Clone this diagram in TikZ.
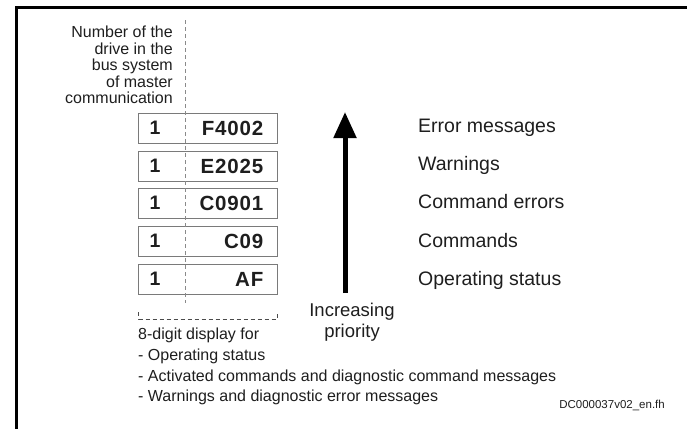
\documentclass[tikz,border=0pt]{standalone}
\usepackage{fontspec}
\setmainfont{Liberation Sans}
\newfontfamily\codefont[LetterSpace=4]{Liberation Sans Bold}
\usetikzlibrary{arrows.meta}
\definecolor{ink}{HTML}{1E1E1E}
\definecolor{boxline}{HTML}{7A7A7A}
\definecolor{dashline}{HTML}{8A8A8A}
\tikzset{
  frame/.style={line width=3pt, black},
  msgbox/.style={draw=boxline, line width=1pt, minimum width=139pt, minimum height=30pt, inner sep=0pt},
  drivenum/.style={font=\bfseries\fontsize{19.5}{19.5}\selectfont, text=ink, inner sep=0pt},
  code/.style={font=\codefont\fontsize{20.5}{20.5}\selectfont, text=ink, inner sep=0pt, anchor=east},
  label/.style={font=\fontsize{19.5}{19.5}\selectfont, text=ink, inner sep=0pt, anchor=west, text height=14pt, text depth=4pt},
  note/.style={font=\fontsize{16}{16}\selectfont, text=ink, inner sep=0pt, anchor=west, text height=11.5pt, text depth=3.5pt},
  divider/.style={dashline, line width=1pt, dash pattern=on 4pt off 3pt},
  bracket/.style={ink!80, line width=1pt, dash pattern=on 4pt off 3pt},
  priority/.style={line width=5pt, -{Triangle[width=22pt,length=26pt]}}
}
\begin{document}
\begin{tikzpicture}[x=1pt,y=-1pt]
\useasboundingbox (0,0) rectangle (687,429);

% outer frame (top and left edges only)
\draw[frame] (687,7.5) -- (16.5,7.5) -- (16.5,429);

% heading over the drive number column
\node[font=\fontsize{16}{16.5}\selectfont, text=ink, align=right, inner sep=0pt, anchor=east]
  (head) at (173,65) {Number of the\\drive in the\\bus system\\of master\\communication};

% the five display boxes
\foreach \i/\y/\c in {1/128/F4002, 2/166/E2025, 3/203/C0901, 4/241/C09, 5/279/AF} {
  \node[msgbox] (b\i) at (207.5,\y) {};
  \node[drivenum] (n\i) at (155,\y) {1};
  \node[code] (c\i) at (263.5,\y) {\c};
}

% dashed divider between drive number and display code
\coordinate (divtop) at (185,20);
\coordinate (divbot) at (185,303);
\draw[divider] (divtop) -- (divbot);

% bracket under the boxes, ticks pointing up
\coordinate (brl) at (138.5,319);
\coordinate (brr) at (277,319);
\draw[bracket] ([yshift=7pt]brl) -- (brl) -- (brr) -- ([yshift=7pt]brr);

% priority arrow
\coordinate (arrbot) at (345,293);
\coordinate (arrtop) at (345,112);
\draw[priority] (arrbot) -- (arrtop);
\node[font=\fontsize{18.5}{21}\selectfont, text=ink, align=center, inner sep=0pt]
  (prio) at (352,322) {Increasing\\priority};

% message categories
\node[label] (l1) at (418,127) {Error messages};
\node[label] (l2) at (418,165) {Warnings};
\node[label] (l3) at (418,203) {Command errors};
\node[label] (l4) at (418,242) {Commands};
\node[label] (l5) at (418,280) {Operating status};

% explanation of the display
\node[note] (t1) at (138,335) {8-digit display for};
\node[note] (t2) at (138,356) {- Operating status};
\node[note] (t3) at (138,377) {- Activated commands and diagnostic command messages};
\node[note] (t4) at (138,397) {- Warnings and diagnostic error messages};

% file reference
\node[font=\fontsize{11.5}{11.5}\selectfont, text=ink, inner sep=0pt, anchor=east]
  (ref) at (665,405) {DC000037v02\_en.fh};
\end{tikzpicture}
\end{document}
